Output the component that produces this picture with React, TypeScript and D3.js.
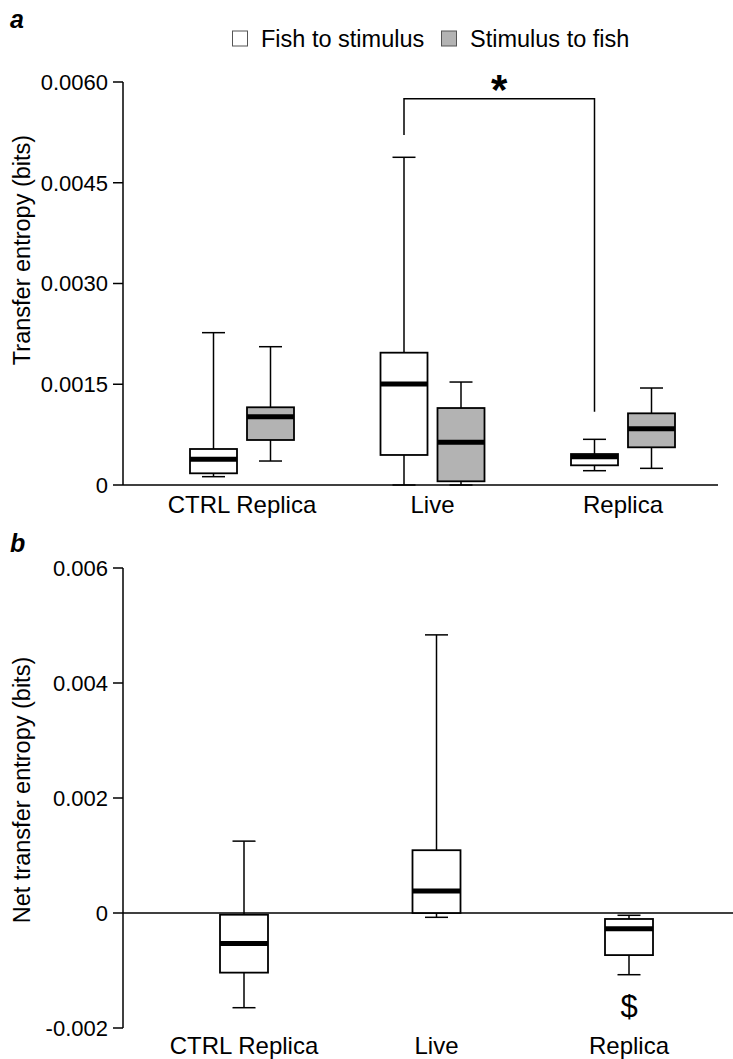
import React from "react";
import * as d3 from "d3";

// categories and box stats: [min, q1, median, q3, max]
const categories = ["CTRL Replica", "Live", "Replica"];
const fishToStimulus = [
  [0.000124, 0.000174, 0.000383, 0.000536, 0.002268],
  [0, 0.000447, 0.001504, 0.00197, 0.004879],
  [0.000213, 0.000293, 0.000422, 0.000461, 0.00068],
];
const stimulusToFish = [
  [0.000357, 0.00067, 0.001017, 0.001157, 0.002059],
  [0, 0.000055, 0.000635, 0.001146, 0.001533],
  [0.000248, 0.000561, 0.000838, 0.001067, 0.001444],
];
const netTransfer = [
  [-0.001647, -0.001037, -0.000532, -0.00003, 0.00125],
  [-0.000075, 0, 0.000383, 0.001092, 0.004837],
  [-0.001073, -0.000732, -0.000275, -0.000104, -0.00004],
];
const ticksA = [0, 0.0015, 0.003, 0.0045, 0.006];
const tickLabelsA = ["0", "0.0015", "0.0030", "0.0045", "0.0060"];
const ticksB = [-0.002, 0, 0.002, 0.004, 0.006];
const tickLabelsB = ["-0.002", "0", "0.002", "0.004", "0.006"];
// bracket heights: left foot, top, right foot
const bracket = [0.00521, 0.00575, 0.00109];
const legendLabels = ["Fish to stimulus", "Stimulus to fish"];

const FONT = "'Liberation Sans', Arial, sans-serif";
const GRAY = "#b3b3b3";

type Stats = number[];

function Box({ cx, stats, y, fill, w = 47 }: { cx: number; stats: Stats; y: d3.ScaleLinear<number, number>; fill: string; w?: number }) {
  const [mn, q1, md, q3, mx] = stats;
  const cap = 23;
  return (
    <g>
      <line x1={cx} x2={cx} y1={y(q3)} y2={y(mx)} stroke="#000" strokeWidth={1.5} />
      <line x1={cx} x2={cx} y1={y(q1)} y2={y(mn)} stroke="#000" strokeWidth={1.5} />
      <line x1={cx - cap / 2} x2={cx + cap / 2} y1={y(mx)} y2={y(mx)} stroke="#000" strokeWidth={1.5} />
      <line x1={cx - cap / 2} x2={cx + cap / 2} y1={y(mn)} y2={y(mn)} stroke="#000" strokeWidth={1.5} />
      <rect x={cx - w / 2} y={y(q3)} width={w} height={y(q1) - y(q3)} fill={fill} stroke="#000" strokeWidth={1.8} />
      <line x1={cx - w / 2} x2={cx + w / 2} y1={y(md)} y2={y(md)} stroke="#000" strokeWidth={5} />
    </g>
  );
}

function YAxis({ y, ticks, labels, x0, label, labelY }: any) {
  const [r0, r1] = y.range();
  return (
    <g fontFamily={FONT}>
      <line x1={x0} x2={x0} y1={r0} y2={r1} stroke="#000" strokeWidth={1.5} />
      {ticks.map((t: number, i: number) => (
        <g key={i}>
          <line x1={x0 - 10} x2={x0} y1={y(t)} y2={y(t)} stroke="#000" strokeWidth={1.5} />
          <text x={x0 - 15} y={y(t)} dy="0.36em" textAnchor="end" fontSize={22}>{labels[i]}</text>
        </g>
      ))}
      <text transform={`translate(22,${labelY}) rotate(-90)`} textAnchor="middle" dy="0.36em" fontSize={23.5}>{label}</text>
    </g>
  );
}

export default function App() {
  const x0 = 123;
  const yA = d3.scaleLinear().domain([0, 0.006]).range([485, 82]);
  const xA = d3.scalePoint<string>().domain(categories).range([242, 623]);
  const yB = d3.scaleLinear().domain([-0.002, 0.006]).range([1028, 568]);
  const xB = d3.scalePoint<string>().domain(categories).range([244, 629]);
  const off = 28.5;

  const bl = (xA("Live") as number) - off;
  const br = (xA("Replica") as number) - off;

  return (
    <svg width={733} height={1059} style={{ position: "absolute", left: 0, top: 0, display: "block" }}>
      <rect width={733} height={1059} fill="#fff" />
      {/* panel a */}
      <text x={10} y={28} fontFamily={FONT} fontWeight="bold" fontStyle="italic" fontSize={25}>a</text>
      <g fontFamily={FONT} fontSize={23.5}>
        <rect x={232.5} y={31} width={15} height={15} fill="#fff" stroke="#555" strokeWidth={1} />
        <text x={261} y={47}>{legendLabels[0]}</text>
        <rect x={441.5} y={31} width={15} height={15} fill={GRAY} stroke="#555" strokeWidth={1} />
        <text x={470} y={47}>{legendLabels[1]}</text>
      </g>
      <YAxis y={yA} ticks={ticksA} labels={tickLabelsA} x0={x0} label="Transfer entropy (bits)" labelY={250} />
      <line x1={x0} x2={718} y1={yA(0)} y2={yA(0)} stroke="#000" strokeWidth={1.5} />
      {categories.map((c, i) => (
        <g key={c}>
          <Box cx={(xA(c) as number) - off} stats={fishToStimulus[i]} y={yA} fill="#fff" />
          <Box cx={(xA(c) as number) + off} stats={stimulusToFish[i]} y={yA} fill={GRAY} />
          <text x={xA(c)} y={513} textAnchor="middle" fontFamily={FONT} fontSize={24}>{c}</text>
        </g>
      ))}
      <path
        d={`M${bl},${yA(bracket[0])}V${yA(bracket[1])}H${br}V${yA(bracket[2])}`}
        fill="none" stroke="#000" strokeWidth={1.5}
      />
      <text x={(bl + br) / 2} y={104} textAnchor="middle" fontFamily={FONT} fontWeight="bold" fontSize={42}>*</text>

      {/* panel b */}
      <text x={10} y={552} fontFamily={FONT} fontWeight="bold" fontStyle="italic" fontSize={25}>b</text>
      <YAxis y={yB} ticks={ticksB} labels={tickLabelsB} x0={x0} label="Net transfer entropy (bits)" labelY={790} />
      <line x1={x0} x2={733} y1={yB(0)} y2={yB(0)} stroke="#000" strokeWidth={1.5} />
      {categories.map((c, i) => (
        <g key={c}>
          <Box cx={xB(c) as number} stats={netTransfer[i]} y={yB} fill="#fff" w={48} />
          <text x={xB(c)} y={1054} textAnchor="middle" fontFamily={FONT} fontSize={24}>{c}</text>
        </g>
      ))}
      <text x={xB("Replica")} y={1017} textAnchor="middle" fontFamily={FONT} fontSize={31}>$</text>
    </svg>
  );
}
